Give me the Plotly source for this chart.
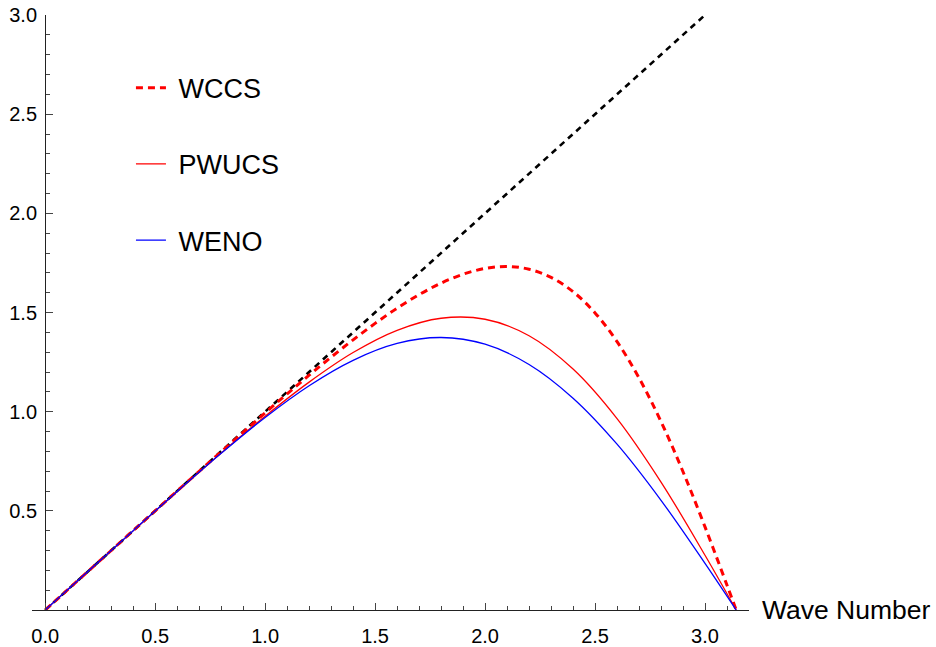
import plotly.graph_objects as go

# Wave numbers (x) and modified wave numbers
k_exact = [0.0, 3.0]
exact = [0.0, 3.0]

k_w = [0.0, 0.1, 0.2, 0.3, 0.4, 0.5, 0.6, 0.7, 0.8, 0.9, 1.0, 1.1, 1.2, 1.3, 1.4, 1.5,
       1.6, 1.7, 1.8, 1.9, 2.0, 2.1, 2.2, 2.3, 2.4, 2.5, 2.6, 2.7, 2.8, 2.9, 3.0, 3.1, 3.1416]
wccs = [0.0, 0.100, 0.200, 0.300, 0.400, 0.500, 0.600, 0.699, 0.798, 0.896, 0.994, 1.090,
        1.184, 1.275, 1.362, 1.445, 1.522, 1.590, 1.648, 1.693, 1.722, 1.732, 1.718, 1.677,
        1.605, 1.498, 1.353, 1.170, 0.950, 0.697, 0.419, 0.125, 0.0]

k = [0.0, 0.2, 0.4, 0.6, 0.8, 1.0, 1.2, 1.4, 1.6, 1.8, 2.0, 2.2, 2.4, 2.6, 2.8, 3.0, 3.1416]
pwucs = [0.0, 0.200, 0.399, 0.597, 0.791, 0.977, 1.149, 1.298, 1.410, 1.471, 1.466, 1.383, 1.215, 0.965, 0.645, 0.276, 0.0]
weno = [0.0, 0.200, 0.400, 0.598, 0.790, 0.971, 1.131, 1.259, 1.344, 1.374, 1.340, 1.238, 1.068, 0.836, 0.553, 0.235, 0.0]

x_ticks = [0.0, 0.5, 1.0, 1.5, 2.0, 2.5, 3.0]
y_ticks = [0.5, 1.0, 1.5, 2.0, 2.5, 3.0]

FONT = "Liberation Sans, Arial, sans-serif"
NB = "\u00a0"

fig = go.Figure()
fig.add_trace(go.Scatter(x=k_exact, y=exact, mode="lines", showlegend=False,
                         line=dict(color="black", width=2.6, dash="6px,5px")))
fig.add_trace(go.Scatter(x=k_w, y=wccs, mode="lines", name=NB + "WCCS", legendgroup="a",
                         line=dict(color="#ff0000", width=3, dash="7px,5px", shape="spline")))
fig.add_trace(go.Scatter(x=k, y=pwucs, mode="lines", name=NB + "PWUCS", legendgroup="b",
                         line=dict(color="#ff0000", width=1.3, shape="spline")))
fig.add_trace(go.Scatter(x=k, y=weno, mode="lines", name=NB + "WENO", legendgroup="c",
                         line=dict(color="#0000ff", width=1.3, shape="spline")))

x_lo, x_hi = -0.06, 3.2
fig.update_layout(
    width=936, height=647,
    margin=dict(l=32, r=187, t=15, b=37, autoexpand=False),
    paper_bgcolor="white", plot_bgcolor="white",
    font=dict(family=FONT, color="black"),
    xaxis=dict(range=[x_lo, x_hi], showgrid=False, zeroline=False, automargin=False,
               showline=True, linecolor="#222", linewidth=1.3,
               tickmode="array", tickvals=x_ticks,
               ticktext=[f"{v:.1f}" for v in x_ticks],
               ticks="inside", ticklen=7, tickcolor="#444", tickwidth=1,
               tickfont=dict(size=20, family=FONT, color="black"),
               ticklabelstandoff=8,
               minor=dict(dtick=0.1, tick0=0, ticks="inside", ticklen=4,
                          tickcolor="#444", showgrid=False)),
    yaxis=dict(range=[0, 3.0], showgrid=False, zeroline=False, automargin=False,
               anchor="free", position=(0 - x_lo) / (x_hi - x_lo),
               showline=True, linecolor="#222", linewidth=1.3,
               tickmode="array", tickvals=y_ticks,
               ticktext=[f"{v:.1f}" for v in y_ticks],
               ticks="inside", ticklen=7, tickcolor="#444", tickwidth=1,
               tickfont=dict(size=20, family=FONT, color="black"),
               ticklabelstandoff=4,
               minor=dict(dtick=0.1, tick0=0, ticks="inside", ticklen=4,
                          tickcolor="#444", showgrid=False)),
    legend=dict(x=0.138, y=0.918, xanchor="left", yanchor="top",
                bgcolor="rgba(0,0,0,0)", font=dict(size=27, family=FONT, color="black"),
                tracegroupgap=38, itemwidth=30),
    annotations=[dict(text="Wave Number", xref="paper", yref="y", x=1, y=0,
                      xanchor="left", yanchor="middle", xshift=11, showarrow=False,
                      font=dict(size=26.5, family=FONT, color="black"))],
)

fig.write_html("out.html")
